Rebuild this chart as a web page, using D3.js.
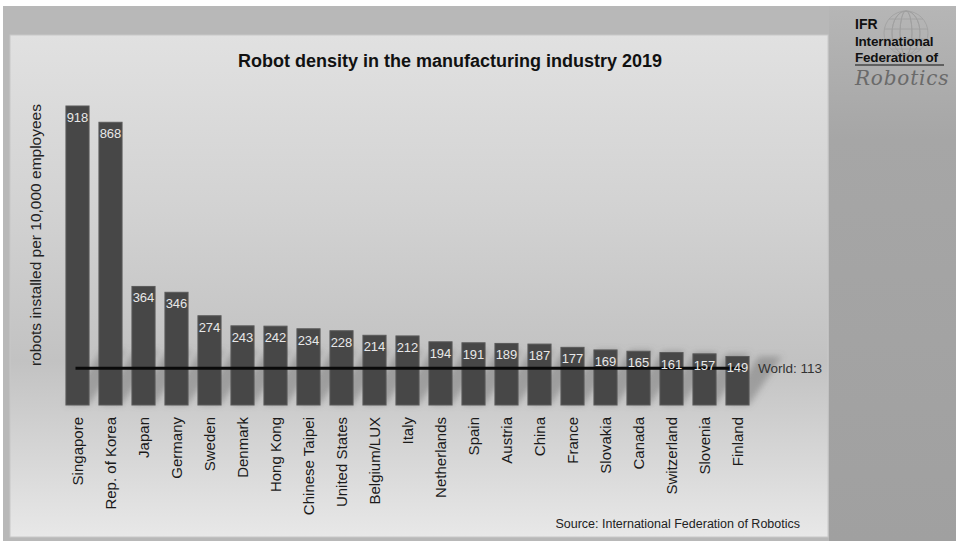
<!DOCTYPE html>
<html>
<head>
<meta charset="utf-8">
<script src="https://cdn.jsdelivr.net/npm/d3@7"></script>
<style>
  html, body { margin: 0; padding: 0; background: #ffffff; }
  svg { display: block; font-family: "Liberation Sans", Arial, sans-serif; }
</style>
</head>
<body>
<svg id="chart" width="956" height="541"></svg>
<script>
const countries = ["Singapore","Rep. of Korea","Japan","Germany","Sweden","Denmark","Hong Kong","Chinese Taipei","United States","Belgium/LUX","Italy","Netherlands","Spain","Austria","China","France","Slovakia","Canada","Switzerland","Slovenia","Finland"];
const density = [918,868,364,346,274,243,242,234,228,214,212,194,191,189,187,177,169,165,161,157,149];
const worldAverage = 113;
const worldLabel = "World: 113";
const titleText = "Robot density in the manufacturing industry 2019";
const yTitleText = "robots installed per 10,000 employees";
const sourceText = "Source: International  Federation of Robotics";

const svg = d3.select("#chart");
const defs = svg.append("defs");

// backgrounds
const rightGrad = defs.append("linearGradient").attr("id","rightG").attr("x1",0).attr("y1",0).attr("x2",0).attr("y2",1);
rightGrad.append("stop").attr("offset","0%").attr("stop-color","#b6b6b6");
rightGrad.append("stop").attr("offset","25%").attr("stop-color","#a6a6a6");
rightGrad.append("stop").attr("offset","100%").attr("stop-color","#a0a0a0");
const panelGrad = defs.append("linearGradient").attr("id","panelG").attr("x1",0).attr("y1",0).attr("x2",0).attr("y2",1);
panelGrad.append("stop").attr("offset","0%").attr("stop-color","#e1e1e1");
panelGrad.append("stop").attr("offset","35%").attr("stop-color","#d2d2d2");
panelGrad.append("stop").attr("offset","65%").attr("stop-color","#c2c2c2");
panelGrad.append("stop").attr("offset","100%").attr("stop-color","#e8e8e8");
const blur = defs.append("filter").attr("id","blur").attr("x","-50%").attr("y","-50%").attr("width","200%").attr("height","200%");
blur.append("feGaussianBlur").attr("stdDeviation",3);

svg.append("rect").attr("x",0).attr("y",0).attr("width",956).attr("height",541).attr("fill","#ffffff");
svg.append("rect").attr("x",3).attr("y",6).attr("width",953).attr("height",535).attr("fill","url(#rightG)");
svg.append("rect").attr("x",3).attr("y",6).attr("width",826).attr("height",535).attr("fill","#b8b8b8");
svg.append("rect").attr("x",10).attr("y",35).attr("width",818).attr("height",502).attr("fill","url(#panelG)")
  .attr("stroke","#c8c8c8").attr("stroke-width",1);

// logo
const logo = svg.append("g");
const globe = logo.append("g").attr("fill","none").attr("stroke","#999").attr("stroke-width",0.8).attr("opacity",0.8);
globe.append("circle").attr("cx",906).attr("cy",33).attr("r",22);
[-14,-6,6,14].forEach(d => globe.append("ellipse").attr("cx",906).attr("cy",33).attr("rx",Math.abs(d)).attr("ry",22));
[-14,-4,6,16].forEach(d => globe.append("line").attr("x1",906-Math.sqrt(484-d*d)).attr("x2",906+Math.sqrt(484-d*d)).attr("y1",33+d).attr("y2",33+d));
logo.append("text").attr("x",855).attr("y",29).attr("font-size",14).attr("font-weight","bold").attr("fill","#111").text("IFR");
logo.append("text").attr("x",855).attr("y",46).attr("font-size",13.5).attr("font-weight","bold").attr("fill","#111").attr("letter-spacing",-0.2).text("International");
logo.append("text").attr("x",855).attr("y",62).attr("font-size",13.5).attr("font-weight","bold").attr("fill","#111").attr("letter-spacing",-0.2).text("Federation of");
logo.append("line").attr("x1",855).attr("x2",944).attr("y1",65).attr("y2",65).attr("stroke","#111").attr("stroke-width",1.2);
logo.append("text").attr("x",855).attr("y",85).attr("font-size",20).attr("font-style","italic")
  .attr("font-family","'DejaVu Serif', serif").attr("fill","#6a6a6a").attr("letter-spacing",0.8).text("Robotics");

// scales
const x = d3.scaleBand().domain(countries).range([61, 754]).paddingInner(0.3).paddingOuter(0.15);
const y = d3.scaleLinear().domain([0, 918]).range([405, 106]);

// title
svg.append("text").attr("x",450).attr("y",67).attr("text-anchor","middle").attr("font-size",18)
  .attr("font-weight","bold").attr("fill","#111").text(titleText);

// y title
svg.append("text").attr("transform","translate(41,235) rotate(-90)").attr("text-anchor","middle")
  .attr("font-size",15.5).attr("fill","#222").text(yTitleText);

// shadows
svg.append("g").attr("filter","url(#blur)").selectAll("path").data(countries).join("path")
  .attr("d", (c,i) => {
    const x0 = x(c), w = x.bandwidth(), b = y(0);
    const rise = Math.min(y(0) - y(density[i]), 55);
    return `M${x0},${b} L${x0+w},${b} L${x0+w+rise*0.55+6},${b-rise} L${x0+rise*0.55+6},${b-rise} Z`;
  })
  .attr("fill","#6a6a6a").attr("opacity",0.45);

// bars
svg.append("g").selectAll("rect").data(countries).join("rect")
  .attr("x", c => x(c)).attr("width", x.bandwidth())
  .attr("y", (c,i) => y(density[i])).attr("height", (c,i) => y(0) - y(density[i]))
  .attr("fill","#474747").attr("stroke","#5a5a5a").attr("stroke-width",1);

// world line
const worldY = y(worldAverage);
svg.append("line").attr("x1", x(countries[0]) + x.bandwidth()/2 - 2).attr("x2", x(countries[countries.length-1]) + x.bandwidth() - 5)
  .attr("y1", worldY).attr("y2", worldY).attr("stroke","#0a0a0a").attr("stroke-width",3);
svg.append("text").attr("x",758).attr("y",worldY+4.5).attr("font-size",13.5).attr("fill","#333").text(worldLabel);

// value labels
svg.append("g").selectAll("text").data(countries).join("text")
  .attr("x", c => x(c) + x.bandwidth()/2).attr("y", (c,i) => y(density[i]) + 16)
  .attr("text-anchor","middle").attr("font-size",13).attr("fill","#e8e8e8")
  .text((c,i) => density[i]);

// x axis labels
const xAxis = svg.append("g").attr("transform", `translate(0,${y(0)})`)
  .call(d3.axisBottom(x).tickSize(0).tickPadding(0));
xAxis.select(".domain").remove();
xAxis.selectAll("text")
  .attr("transform","translate(0,12) rotate(-90)")
  .attr("text-anchor","end").attr("dx",0).attr("dy","0.35em").attr("x",0).attr("y",0)
  .attr("font-size",15).attr("font-family","'Liberation Sans', Arial, sans-serif").attr("fill","#1a1a1a");

// source
svg.append("text").attr("x",800).attr("y",528).attr("text-anchor","end").attr("font-size",12.5)
  .attr("fill","#222").text(sourceText);
</script>
</body>
</html>
